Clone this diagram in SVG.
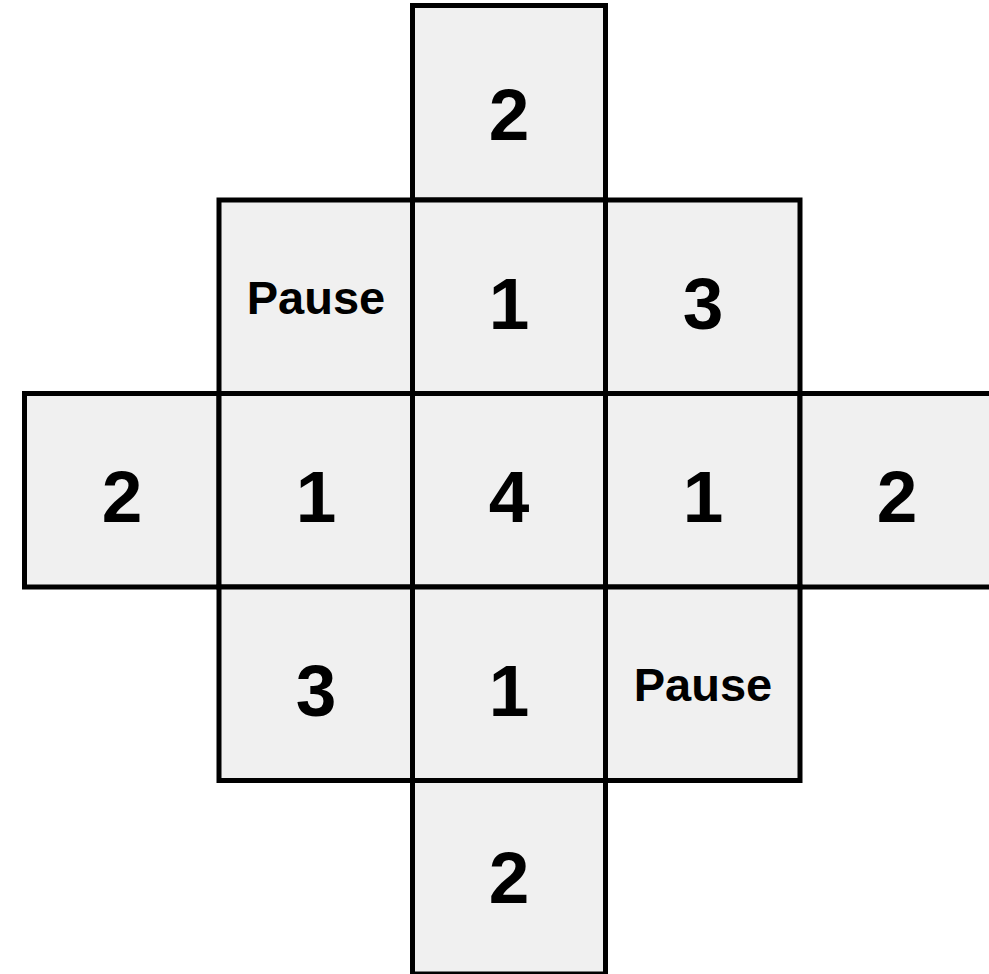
<svg xmlns="http://www.w3.org/2000/svg" width="989" height="974" viewBox="0 0 989 974">
<style>
.c{fill:#f0f0f0;stroke:#000;stroke-width:5}
.n{font-family:"Liberation Sans",Arial,sans-serif;font-weight:bold;font-size:73px;text-anchor:middle;fill:#000}
.p{font-family:"Liberation Sans",Arial,sans-serif;font-weight:bold;font-size:47px;text-anchor:middle;fill:#000}
</style>
<rect width="989" height="974" fill="#fff"/>
<g id="cell-top"><rect class="c" x="412.5" y="5.5" width="193" height="194.5"/><text class="n" x="509" y="140">2</text></g>
<g id="cell-r1c1"><rect class="c" x="219" y="200" width="193.5" height="193.5"/><text class="p" x="316" y="314">Pause</text></g>
<g id="cell-r1c2"><rect class="c" x="412.5" y="200" width="193" height="193.5"/><text class="n" x="509" y="329">1</text></g>
<g id="cell-r1c3"><rect class="c" x="605.5" y="200" width="194.5" height="193.5"/><text class="n" x="703" y="329">3</text></g>
<g id="cell-r2c0"><rect class="c" x="24.5" y="393.5" width="194.5" height="193.5"/><text class="n" x="122" y="522">2</text></g>
<g id="cell-r2c1"><rect class="c" x="219" y="393.5" width="193.5" height="193.5"/><text class="n" x="316" y="522">1</text></g>
<g id="cell-r2c2"><rect class="c" x="412.5" y="393.5" width="193" height="193.5"/><text class="n" x="509" y="522">4</text></g>
<g id="cell-r2c3"><rect class="c" x="605.5" y="393.5" width="194.5" height="193.5"/><text class="n" x="703" y="522">1</text></g>
<g id="cell-r2c4"><rect class="c" x="800" y="393.5" width="194" height="193.5"/><text class="n" x="897" y="522">2</text></g>
<g id="cell-r3c1"><rect class="c" x="219" y="587" width="193.5" height="193.5"/><text class="n" x="316" y="716">3</text></g>
<g id="cell-r3c2"><rect class="c" x="412.5" y="587" width="193" height="193.5"/><text class="n" x="509" y="716">1</text></g>
<g id="cell-r3c3"><rect class="c" x="605.5" y="587" width="194.5" height="193.5"/><text class="p" x="703" y="701">Pause</text></g>
<g id="cell-bottom"><rect class="c" x="412.5" y="780.5" width="193" height="193.5"/><text class="n" x="509" y="903">2</text></g>
<g id="connectors"></g>
</svg>
